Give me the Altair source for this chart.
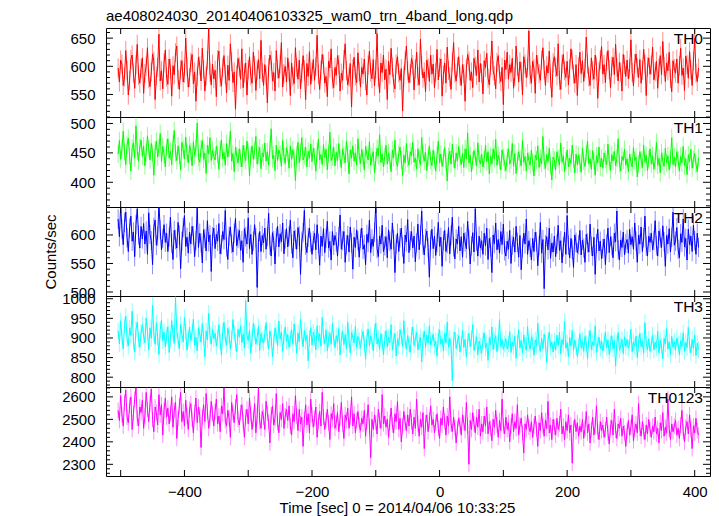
import math
import altair as alt
import pandas as pd

TITLE = "ae408024030_20140406103325_wam0_trn_4band_long.qdp"
XTITLE = "Time [sec] 0 = 2014/04/06 10:33:25"
NAMES = ["TH0", "TH1", "TH2", "TH3", "TH0123"]
COLORS = ["#ff0000", "#00ff00", "#0000ff", "#00ffff", "#ff00ff"]

# time bins: start and bin width (sec)
T0 = -504
DT = 2

TH0 = [
    597, 572, 611, 604, 566, 581, 628, 593, 549, 575, 612, 620, 588, 561, 603, 639, 584, 570, 596,
    615, 552, 587, 600, 633, 578, 564, 590, 622, 609, 541, 583, 598, 657, 574, 592, 560, 606, 629,
    581, 568, 613, 596, 547, 601, 585, 624, 636, 577, 559, 594, 610, 572, 588, 650, 599, 563, 580,
    607, 621, 569, 590, 538, 582, 616, 601, 574, 632, 595, 556, 583, 611, 668, 589, 567, 604, 578,
    593, 546, 612, 627, 580, 565, 598, 619, 586, 553, 602, 575, 640, 608, 571, 590, 524, 585, 614,
    599, 577, 631, 562, 588, 606, 549, 594, 617, 583, 570, 625, 601, 557, 593, 612, 578, 646, 589,
    566, 603, 584, 535, 597, 620, 610, 574, 589, 556, 628, 595, 579, 604, 642, 563, 587, 600, 572,
    615, 591, 548, 606, 582, 569, 633, 598, 577, 611, 560, 588, 619, 594, 541, 605, 582, 626, 568,
    590, 612, 575, 600, 655, 586, 559, 593, 621, 604, 570, 582, 546, 609, 597, 631, 577, 562, 598,
    584, 619, 603, 556, 588, 575, 612, 640, 592, 567, 581, 605, 528, 596, 616, 583, 571, 624, 590,
    563, 598, 586, 613, 574, 549, 602, 627, 590, 578, 612, 565, 594, 658, 581, 553, 606, 589, 620,
    576, 595, 541, 609, 585, 632, 598, 570, 560, 604, 617, 588, 575, 596, 521, 583, 610, 636, 592,
    571, 587, 614, 603, 558, 595, 625, 582, 567, 648, 601, 579, 590, 555, 611, 597, 573, 620, 586,
    604, 562, 589, 630, 576, 598, 613, 547, 585, 606, 570, 634, 593, 581, 559, 608, 642, 588, 574,
    599, 617, 583, 566, 603, 587, 538, 596, 621, 609, 575, 590, 562, 614, 600, 584, 629, 572, 605,
    588, 551, 610, 598, 623, 579, 567, 601, 645, 592, 583, 560, 607, 619, 586, 573, 598, 532, 611,
    594, 625, 577, 603, 589, 614, 561, 582, 636, 600, 572, 608, 591, 549, 617, 604, 580, 597, 663,
    585, 570, 609, 596, 552, 620, 603, 587, 575, 611, 633, 594, 566, 601, 588, 627, 579, 545, 606,
    617, 598, 583, 640, 575, 559, 604, 621, 592, 580, 609, 567, 596, 631, 612, 586, 570, 603, 548,
    599, 625, 587, 610, 573, 596, 652, 604, 581, 566, 615, 592, 577, 620, 600, 543, 590, 612, 635,
    586, 603, 571, 609, 628, 594, 562, 600, 616, 585, 639, 598, 574, 607, 590, 556, 621, 603, 582,
    611, 578, 596, 647, 589, 565, 605, 622, 597, 580, 612, 570, 593, 630, 604, 548, 599, 615, 586,
    602, 634, 576, 590, 609, 561, 597, 619, 585, 644, 600, 573, 606, 592, 625, 578, 555, 610, 596,
    588, 613, 570, 601, 632, 584, 597, 557, 618, 603, 579, 626, 594, 566, 609, 650, 588, 573, 597,
]
TH1 = [
    448, 471, 439, 456, 487, 452, 430, 463, 475, 445, 419, 458, 467, 441, 496, 453, 436, 460, 472,
    444, 462, 428, 451, 479, 457, 438, 466, 449, 412, 455, 470, 443, 458, 483, 435, 461, 447, 426,
    459, 474, 441, 453, 430, 466, 488, 450, 437, 462, 445, 421, 468, 456, 440, 477, 449, 433, 463,
    452, 428, 469, 446, 458, 501, 442, 434, 457, 471, 439, 450, 415, 463, 448, 476, 437, 455, 444,
    438, 461, 447, 422, 455, 472, 440, 451, 429, 466, 443, 458, 487, 436, 449, 418, 460, 445, 433,
    457, 441, 426, 463, 448, 437, 470, 452, 411, 445, 462, 439, 454, 478, 431, 447, 459, 423, 450,
    443, 467, 436, 452, 429, 458, 491, 440, 446, 420, 463, 437, 455, 448, 427, 471, 444, 432, 459,
    449, 424, 462, 439, 455, 442, 403, 447, 468, 433, 451, 476, 438, 445, 460, 426, 453, 441, 465,
    435, 458, 444, 419, 452, 473, 438, 447, 430, 464, 442, 456, 421, 449, 485, 437, 443, 460, 428,
    451, 437, 466, 440, 425, 457, 446, 433, 470, 448, 414, 455, 441, 462, 436, 450, 429, 474, 445,
    432, 456, 440, 421, 461, 447, 438, 469, 429, 443, 452, 416, 437, 458, 445, 481, 434, 448, 426,
    444, 463, 431, 450, 437, 418, 455, 442, 472, 435, 427, 449, 460, 438, 412, 446, 433, 466, 440,
    429, 452, 445, 468, 434, 441, 423, 457, 439, 430, 476, 447, 436, 451, 420, 443, 462, 437, 428,
    455, 438, 419, 446, 470, 433, 448, 427, 441, 459, 435, 402, 444, 453, 431, 465, 439, 424, 450,
    436, 461, 442, 430, 449, 425, 457, 440, 484, 433, 446, 418, 437, 454, 443, 428, 467, 439, 431,
    448, 426, 439, 463, 435, 452, 414, 444, 431, 457, 440, 473, 429, 446, 437, 421, 455, 442, 433,
    420, 443, 457, 431, 438, 466, 427, 449, 415, 436, 452, 440, 428, 471, 434, 444, 419, 450, 437,
    429, 455, 433, 411, 446, 438, 462, 425, 441, 432, 478, 436, 423, 447, 435, 458, 428, 404, 443,
    438, 421, 452, 440, 429, 467, 434, 445, 418, 437, 455, 426, 441, 432, 463, 439, 416, 448, 430,
    446, 433, 417, 458, 436, 427, 449, 470, 431, 440, 422, 454, 437, 412, 445, 433, 460, 426, 441,
    424, 450, 439, 430, 465, 435, 420, 447, 436, 453, 428, 441, 474, 432, 419, 444, 437, 456, 429,
    440, 418, 448, 434, 426, 459, 437, 443, 409, 431, 452, 438, 425, 463, 434, 446, 420, 439, 457,
    431, 445, 422, 437, 468, 429, 441, 416, 450, 436, 427, 458, 433, 445, 421, 439, 476, 430, 443,
    426, 452, 438, 419, 444, 433, 461, 428, 440, 413, 447, 435, 456, 424, 439, 449, 431, 418, 442,
]
TH2 = [
    628, 597, 651, 610, 583, 622, 640, 595, 571, 612, 633, 589, 605, 562, 618, 646, 600, 577, 615,
    593, 620, 584, 607, 566, 639, 601, 590, 548, 613, 626, 582, 598, 655, 609, 574, 594, 618, 587,
    603, 571, 596, 631, 585, 557, 608, 592, 577, 622, 600, 541, 589, 613, 634, 580, 596, 568, 605,
    584, 615, 599, 562, 590, 648, 578, 603, 586, 551, 609, 594, 572, 625, 588, 600, 536, 597, 612,
    576, 601, 589, 620, 567, 583, 606, 592, 643, 579, 557, 598, 614, 585, 570, 603, 629, 581, 594,
    608, 573, 590, 552, 611, 597, 584, 630, 576, 601, 566, 589, 618, 595, 508, 587, 606, 571, 599,
    586, 612, 575, 597, 638, 582, 563, 604, 590, 549, 596, 615, 579, 602, 588, 621, 567, 593, 611,
    579, 598, 626, 584, 560, 607, 592, 575, 613, 598, 531, 589, 604, 643, 582, 569, 596, 612, 587,
    566, 590, 603, 574, 618, 585, 547, 598, 580, 611, 569, 594, 624, 577, 589, 556, 606, 582, 599,
    588, 563, 597, 635, 575, 590, 606, 552, 583, 599, 570, 614, 586, 540, 596, 578, 609, 590, 561,
    594, 612, 575, 583, 548, 601, 587, 626, 569, 593, 580, 605, 655, 576, 562, 598, 584, 617, 571,
    581, 597, 560, 609, 589, 575, 621, 592, 534, 584, 603, 571, 595, 612, 579, 550, 600, 588, 627,
    569, 590, 606, 577, 598, 553, 586, 619, 574, 600, 642, 583, 565, 594, 607, 578, 526, 591, 610,
    576, 598, 564, 587, 622, 580, 596, 545, 590, 608, 571, 585, 613, 567, 599, 631, 579, 558, 593,
    584, 615, 572, 597, 561, 603, 588, 576, 624, 592, 549, 581, 604, 570, 646, 589, 563, 598, 577,
    590, 566, 603, 581, 612, 557, 594, 579, 534, 600, 585, 621, 574, 592, 568, 606, 583, 619, 572,
    563, 589, 575, 608, 550, 582, 596, 570, 615, 587, 561, 599, 539, 577, 603, 584, 628, 566, 590,
    578, 556, 594, 571, 605, 588, 546, 581, 622, 568, 592, 506, 583, 597, 574, 612, 559, 586, 570,
    598, 562, 584, 617, 573, 590, 551, 579, 605, 566, 634, 582, 560, 594, 575, 543, 600, 587, 569,
    583, 608, 565, 591, 577, 552, 601, 586, 570, 619, 580, 563, 596, 531, 585, 610, 572, 589, 558,
    576, 593, 548, 584, 612, 569, 597, 581, 560, 603, 588, 642, 574, 556, 591, 578, 605, 565, 585,
    592, 568, 610, 583, 597, 575, 621, 589, 552, 600, 584, 614, 571, 595, 633, 580, 563, 598, 587,
    603, 574, 590, 625, 581, 563, 607, 594, 578, 616, 588, 545, 599, 584, 611, 570, 596, 640, 582,
    589, 613, 575, 560, 602, 587, 628, 579, 594, 556, 610, 583, 598, 571, 617, 590, 566, 603, 578,
]
TH3 = [
    918, 885, 944, 903, 872, 931, 956, 899, 880, 925, 907, 968, 891, 864, 922, 940, 897, 876, 913,
    934, 905, 888, 951, 917, 870, 926, 899, 983, 911, 884, 939, 902, 858, 920, 946, 893, 915, 877,
    906, 929, 863, 897, 944, 912, 886, 1003, 921, 895, 872, 935, 908, 890, 952, 917, 869, 899, 928,
    893, 915, 948, 881, 902, 867, 926, 910, 889, 937, 903, 852, 918, 895, 963, 906, 884, 921, 898,
    912, 879, 901, 934, 890, 856, 917, 940, 899, 882, 925, 908, 871, 898, 947, 913, 887, 865, 922,
    903, 931, 888, 910, 874, 995, 906, 893, 920, 861, 899, 937, 915, 884, 902, 929, 868, 911, 895,
    887, 910, 939, 896, 873, 918, 901, 852, 889, 925, 908, 880, 943, 897, 914, 866, 903, 928, 891,
    909, 876, 898, 921, 884, 936, 902, 861, 913, 890, 948, 905, 878, 919, 893, 907, 842, 899, 926,
    882, 915, 901, 870, 931, 894, 911, 879, 952, 903, 886, 921, 868, 897, 913, 884, 937, 900, 875,
    906, 889, 924, 857, 898, 916, 883, 909, 872, 940, 895, 862, 914, 901, 887, 929, 876, 904, 893,
    874, 902, 917, 886, 846, 899, 923, 880, 906, 892, 867, 914, 938, 885, 899, 871, 911, 890, 857,
    896, 919, 877, 902, 888, 934, 869, 893, 911, 854, 897, 880, 921, 905, 878, 944, 891, 872, 906,
    885, 863, 907, 928, 881, 897, 914, 870, 889, 902, 839, 895, 918, 876, 908, 887, 931, 882, 894,
    910, 879, 892, 853, 903, 921, 884, 898, 867, 913, 887, 940, 876, 899, 882, 791, 896, 915, 873,
    889, 906, 865, 883, 920, 876, 897, 851, 890, 912, 878, 899, 934, 868, 885, 903, 857, 892, 879,
    861, 895, 913, 874, 887, 843, 901, 882, 928, 870, 893, 906, 865, 889, 947, 878, 896, 871, 884,
    898, 872, 885, 916, 863, 890, 877, 904, 848, 887, 921, 875, 894, 862, 908, 881, 869, 929, 886,
    871, 903, 889, 856, 895, 879, 937, 884, 866, 899, 873, 910, 887, 838, 893, 915, 876, 890, 864,
    892, 869, 907, 881, 915, 859, 896, 883, 942, 874, 888, 852, 901, 879, 919, 868, 895, 877, 853,
    880, 911, 874, 893, 866, 904, 887, 846, 898, 919, 871, 890, 880, 931, 863, 885, 902, 873, 892,
    867, 889, 915, 876, 895, 858, 884, 906, 872, 894, 829, 887, 914, 869, 881, 897, 860, 903, 878,
    896, 874, 887, 922, 865, 890, 879, 905, 850, 886, 912, 877, 893, 861, 939, 884, 871, 898, 866,
    883, 908, 870, 889, 875, 917, 862, 894, 880, 847, 899, 885, 924, 872, 890, 858, 904, 876, 891,
    869, 900, 884, 857, 893, 878, 913, 866, 889, 875, 927, 881, 862, 896, 874, 908, 855, 887, 870,
]
TH0123 = [
    2540, 2495, 2605, 2520, 2470, 2575, 2630, 2510, 2485, 2560, 2600, 2455, 2525, 2590, 2640, 2505, 2470, 2555, 2530,
    2585, 2460, 2515, 2620, 2545, 2490, 2570, 2635, 2500, 2445, 2555, 2530, 2475, 2610, 2520, 2565, 2430, 2540, 2595,
    2510, 2550, 2480, 2525, 2600, 2465, 2540, 2575, 2415, 2505, 2560, 2620, 2490, 2535, 2470, 2585, 2515, 2455, 2545,
    2570, 2500, 2440, 2530, 2595, 2485, 2555, 2520, 2375, 2510, 2565, 2490, 2615, 2535, 2460, 2505, 2580, 2525, 2470,
    2535, 2590, 2480, 2515, 2445, 2560, 2525, 2640, 2495, 2470, 2540, 2505, 2420, 2575, 2530, 2485, 2555, 2610, 2500,
    2475, 2530, 2565, 2490, 2420, 2510, 2545, 2480, 2595, 2525, 2455, 2500, 2570, 2440, 2515, 2640, 2490, 2460, 2535,
    2510, 2455, 2580, 2525, 2490, 2395, 2520, 2560, 2475, 2505, 2615, 2485, 2440, 2530, 2500, 2570, 2460, 2515, 2545,
    2495, 2560, 2470, 2430, 2525, 2490, 2605, 2515, 2450, 2545, 2480, 2510, 2380, 2500, 2565, 2475, 2525, 2440, 2590,
    2520, 2465, 2505, 2555, 2420, 2490, 2535, 2470, 2620, 2510, 2455, 2495, 2545, 2485, 2410, 2525, 2500, 2570, 2460,
    2485, 2530, 2445, 2505, 2575, 2480, 2415, 2520, 2495, 2550, 2460, 2510, 2600, 2470, 2525, 2440, 2495, 2535, 2475,
    2450, 2505, 2480, 2540, 2425, 2490, 2565, 2470, 2330, 2500, 2455, 2520, 2485, 2435, 2545, 2495, 2460, 2610, 2480,
    2515, 2465, 2500, 2420, 2485, 2550, 2475, 2440, 2525, 2490, 2580, 2455, 2505, 2400, 2470, 2535, 2485, 2450, 2520,
    2470, 2545, 2490, 2435, 2510, 2460, 2590, 2480, 2425, 2500, 2465, 2530, 2370, 2485, 2520, 2445, 2495, 2560, 2475,
    2500, 2440, 2485, 2525, 2460, 2415, 2505, 2475, 2555, 2490, 2430, 2515, 2470, 2600, 2480, 2445, 2510, 2465, 2395,
    2460, 2505, 2475, 2430, 2520, 2485, 2450, 2575, 2470, 2300, 2495, 2455, 2530, 2480, 2440, 2510, 2465, 2545, 2425,
    2480, 2445, 2515, 2470, 2555, 2435, 2490, 2460, 2405, 2500, 2465, 2540, 2475, 2420, 2495, 2450, 2590, 2470, 2435,
    2510, 2455, 2485, 2400, 2470, 2525, 2445, 2490, 2460, 2565, 2430, 2475, 2505, 2440, 2350, 2480, 2455, 2520, 2465,
    2445, 2490, 2420, 2470, 2515, 2455, 2380, 2485, 2450, 2530, 2470, 2425, 2495, 2460, 2580, 2440, 2475, 2410, 2500,
    2465, 2430, 2505, 2455, 2480, 2545, 2435, 2470, 2410, 2490, 2450, 2520, 2440, 2475, 2305, 2460, 2500, 2445, 2485,
    2425, 2470, 2445, 2500, 2415, 2460, 2535, 2440, 2480, 2395, 2455, 2510, 2430, 2470, 2560, 2445, 2410, 2490, 2450,
    2475, 2420, 2455, 2510, 2440, 2390, 2465, 2495, 2430, 2545, 2450, 2415, 2480, 2460, 2505, 2425, 2470, 2440, 2380,
    2450, 2495, 2430, 2465, 2520, 2405, 2455, 2480, 2440, 2570, 2460, 2425, 2490, 2445, 2410, 2475, 2435, 2500, 2455,
    2420, 2470, 2445, 2510, 2435, 2460, 2395, 2485, 2450, 2530, 2425, 2465, 2440, 2590, 2455, 2410, 2480, 2445, 2470,
    2495, 2430, 2460, 2415, 2475, 2540, 2445, 2400, 2465, 2490, 2435, 2520, 2455, 2370, 2470, 2440, 2505, 2450, 2430,
]
SERIES = [TH0, TH1, TH2, TH3, TH0123]

# per-panel 1-sigma error bar half-length (counts/sec)
ERRS = [17, 15, 17, 21, 35]

# axis setup
XDOM = [-523, 424]
XTICKS = [-500, -400, -300, -200, -100, 0, 100, 200, 300, 400]
XLABELS = [-400, -200, 0, 200, 400]
YDOMS = [[510, 668], [358, 511], [493, 649], [775, 1007], [2248, 2644]]
YMAJOR = [[550, 600, 650], [400, 450, 500], [500, 550, 600],
          [800, 850, 900, 950, 1000], [2300, 2400, 2500, 2600]]
YMINOR_STEP = [10, 10, 10, 10, 20]
HEIGHTS = [89, 90, 89, 91, 89]
W = 604
FONT = "Liberation Sans"


def panel(i):
    vals = SERIES[i]
    h = HEIGHTS[i]
    last = i == len(SERIES) - 1
    df = pd.DataFrame({"t": [T0 + DT * k for k in range(len(vals))], "v": vals})
    df["lo"] = df["v"] - ERRS[i]
    df["hi"] = df["v"] + ERRS[i]

    xs = alt.Scale(domain=XDOM, nice=False, zero=False)
    ys = alt.Scale(domain=YDOMS[i], nice=False, zero=False)

    if last:
        xaxis = alt.Axis(values=XLABELS, title=XTITLE, ticks=False, tickSize=0, domain=False,
                         grid=False, labelFontSize=15, labelFont=FONT, labelColor="black",
                         labelPadding=8, labelFlush=False, titleFont=FONT, titleFontSize=15,
                         titleFontWeight="normal", titleColor="black", titleX=291, titleY=36,
                         titleBaseline="alphabetic")
    else:
        xaxis = None

    ykw = dict(values=YMAJOR[i], format="d", ticks=False, tickSize=0, domain=False, grid=False,
               labelFontSize=15, labelFont=FONT, labelColor="black", labelPadding=11,
               labelOverlap=False)
    if i == 2:
        yaxis = alt.Axis(title="Counts/sec", titleFont=FONT, titleFontSize=15,
                         titleFontWeight="normal", titleColor="black", titleX=-56,
                         titleY=h / 2, titleBaseline="middle", titleAngle=270, **ykw)
    else:
        yaxis = alt.Axis(title=None, **ykw)

    def X(field="t"):
        return alt.X(f"{field}:Q", scale=xs, axis=xaxis)

    def Y(field):
        return alt.Y(f"{field}:Q", scale=ys, axis=yaxis)

    base = alt.Chart(df)
    err = base.mark_rule(color=COLORS[i], opacity=0.45, strokeWidth=1, clip=True).encode(
        x=X(), y=Y("lo"), y2=alt.Y2("hi:Q"),
    )
    line = base.mark_line(color=COLORS[i], strokeWidth=1, clip=True).encode(
        x=X(), y=Y("v"),
    )

    xt = alt.Chart(pd.DataFrame({"t": XTICKS}))
    xtick_top = xt.mark_rule(color="black", strokeWidth=1).encode(
        x=X(), y=alt.value(0), y2=alt.value(6))
    xtick_bot = xt.mark_rule(color="black", strokeWidth=1).encode(
        x=X(), y=alt.value(h), y2=alt.value(h - 6))

    lo, hi = YDOMS[i]
    step = YMINOR_STEP[i]
    minors = [v for v in range(int(math.ceil(lo / step) * step), hi + 1, step) if v not in YMAJOR[i]]
    ymj = alt.Chart(pd.DataFrame({"v": YMAJOR[i]}))
    ymn = alt.Chart(pd.DataFrame({"v": minors}))
    yt = []
    for src, ln in ((ymj, 7), (ymn, 4)):
        yt.append(src.mark_rule(color="black", strokeWidth=1).encode(
            y=Y("v"), x=alt.value(0), x2=alt.value(ln)))
        yt.append(src.mark_rule(color="black", strokeWidth=1).encode(
            y=Y("v"), x=alt.value(W), x2=alt.value(W - ln)))

    lab = alt.Chart(pd.DataFrame({"n": [NAMES[i]]})).mark_text(
        align="right", baseline="alphabetic", fontSize=15.5, font=FONT, color="black"
    ).encode(x=alt.value(W - 7), y=alt.value(16), text="n:N")

    layers = [err, line, xtick_top, xtick_bot] + yt + [lab]
    if i == 0:
        ttl = alt.Chart(pd.DataFrame({"s": [TITLE]})).mark_text(
            align="left", baseline="alphabetic", fontSize=15, font=FONT, color="black"
        ).encode(x=alt.value(0), y=alt.value(-7), text="s:N")
        layers.append(ttl)
    return alt.layer(*layers).properties(width=W, height=h)


chart = (
    alt.vconcat(*[panel(i) for i in range(len(SERIES))], spacing=0, bounds="flush")
    .properties(padding={"left": 34, "top": 0, "right": 0, "bottom": 0})
    .configure_view(stroke="black", strokeWidth=1)
    .configure_concat(spacing=0)
)

chart.save("out.html", embed_options={"renderer": "svg", "actions": False})
